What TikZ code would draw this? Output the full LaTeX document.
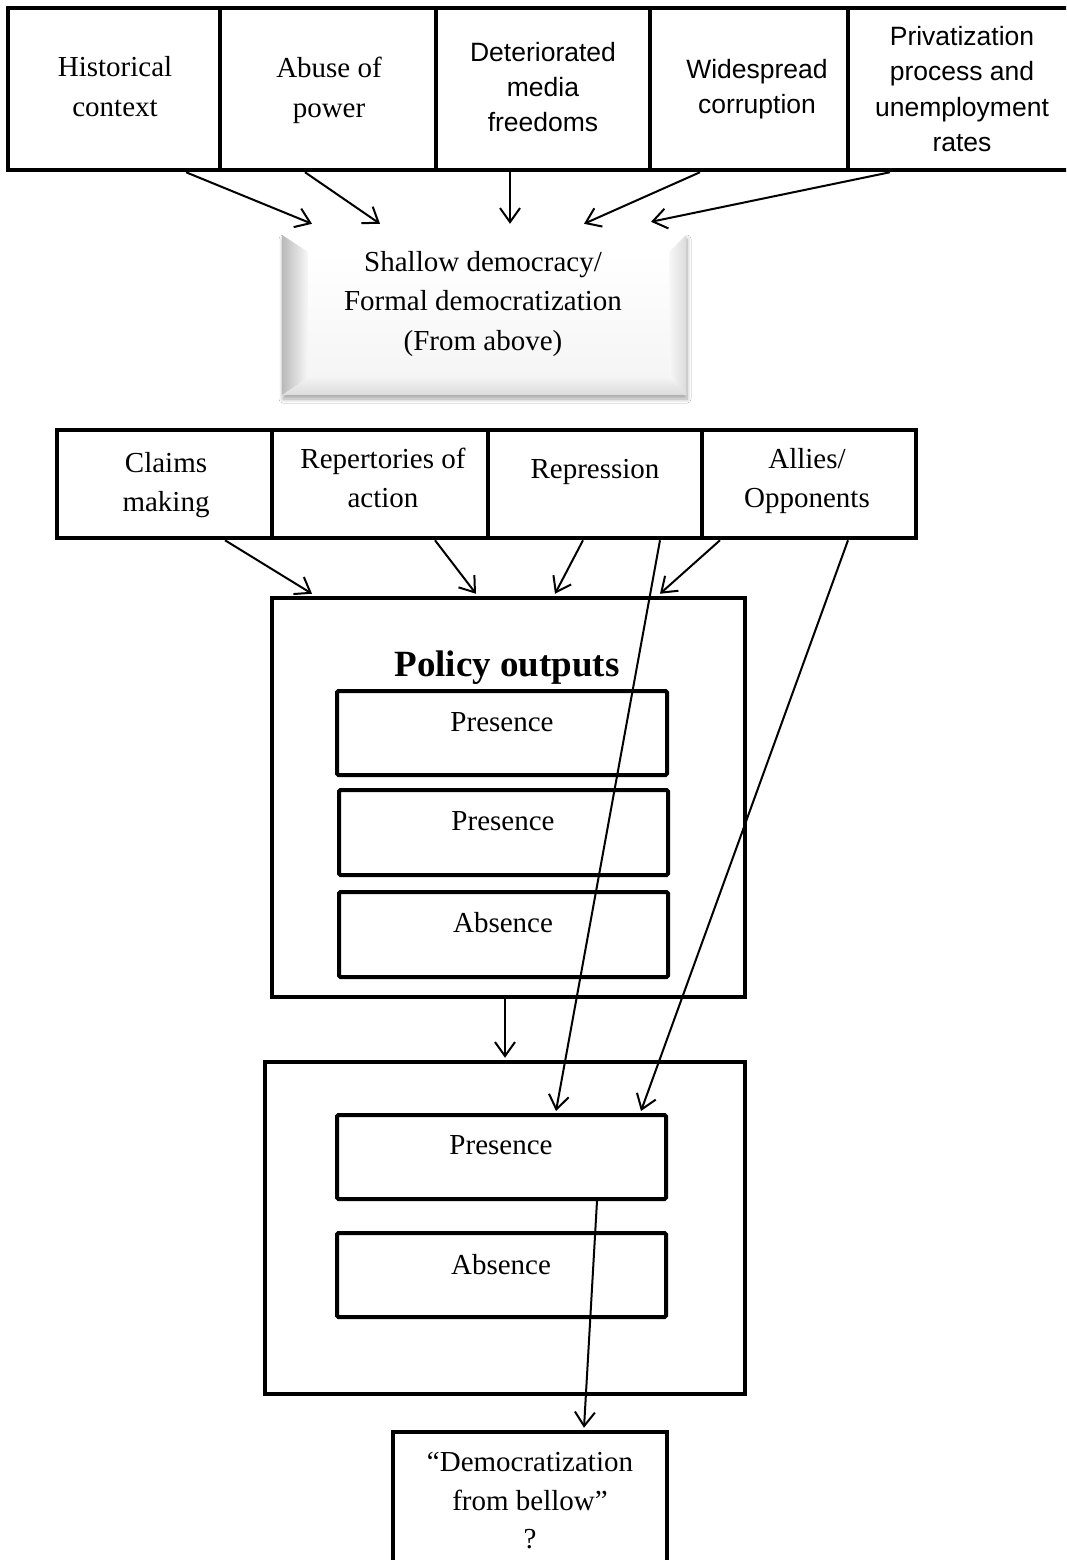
\documentclass[tikz,border=0pt]{standalone}
\usepackage{fontspec}
\setmainfont{Liberation Serif}
\newfontfamily\arialf{Liberation Sans}
\usetikzlibrary{arrows.meta,calc,shadows.blur}
\begin{document}
\begin{tikzpicture}[x=1pt,y=-1pt,
  tbox/.style={draw,line width=4.5pt,inner sep=0pt},
  ibox/.style={draw,line width=4pt,inner sep=0pt,rounded corners=1.5pt},
  serif/.style={font=\fontsize{29}{40}\selectfont,align=center,inner sep=0pt},
  sans/.style={font=\arialf\fontsize{26.5}{35.3}\selectfont,align=center,inner sep=0pt},
  arr/.style={line width=2pt,-{Straight Barb[length=14pt,width=20pt]}}]
\useasboundingbox (0,0) rectangle (1066,1560);
\clip (0,0) rectangle (1066,1560);
\fill[white] (0,0) rectangle (1066,1560);

% ---------- top row ----------
\node[tbox,minimum width=212pt,minimum height=162pt] (hist) at (114,89) {};
\node[tbox,minimum width=216pt,minimum height=162pt] (abuse) at (328,89) {};
\node[tbox,minimum width=214pt,minimum height=162pt] (det) at (543,89) {};
\node[tbox,minimum width=198pt,minimum height=162pt] (wide) at (749,89) {};
\node[tbox,minimum width=224pt,minimum height=162pt] (priv) at (960,89) {};
\node[serif] (histT) at (115,87) {Historical\\context};
\node[serif] (abuseT) at (329,90) {Abuse of\\power};
\node[sans] (detT) at (543,87) {Deteriorated\\media\\freedoms};
\node[sans] (wideT) at (757,89) {Widespread\\corruption};
\node[sans] (privT) at (962,89) {Privatization\\process and\\unemployment\\rates};

% ---------- shallow democracy (bevel) ----------
\node[fill=gray!4,inner sep=0pt,minimum width=404pt,minimum height=160pt,
      blur shadow={shadow xshift=1pt,shadow yshift=-4pt,shadow opacity=35,shadow blur steps=8,shadow blur radius=4pt}] (shallow) at (484,315) {};
\shade[top color=white,bottom color=gray!8]
  ($(shallow.north west)+(26,17)$) rectangle ($(shallow.south east)+(-17,-17)$);
\fill[white] (shallow.north west) -- ($(shallow.north west)+(26,17)$) -- ($(shallow.north east)+(-17,17)$) -- (shallow.north east) -- cycle;
\shade[left color=gray!55,right color=gray!6]
  (shallow.north west) -- ($(shallow.north west)+(26,17)$) -- ($(shallow.south west)+(26,-17)$) -- (shallow.south west) -- cycle;
\shade[left color=gray!6,right color=gray!28]
  (shallow.north east) -- ($(shallow.north east)+(-17,17)$) -- ($(shallow.south east)+(-17,-17)$) -- (shallow.south east) -- cycle;
\shade[top color=gray!10,bottom color=gray!28]
  (shallow.south west) -- ($(shallow.south west)+(26,-17)$) -- ($(shallow.south east)+(-17,-17)$) -- (shallow.south east) -- cycle;
\node[serif,font=\fontsize{29}{39.5}\selectfont] (shallowT) at (483,304) {Shallow democracy/\\Formal democratization\\(From above)};

% ---------- middle row ----------
\node[tbox,minimum width=215pt,minimum height=108pt] (claims) at (164.5,484) {};
\node[tbox,minimum width=216pt,minimum height=108pt] (repert) at (380,484) {};
\node[tbox,minimum width=214pt,minimum height=108pt] (repr) at (595,484) {};
\node[tbox,minimum width=214pt,minimum height=108pt] (allies) at (809,484) {};
\node[serif,font=\fontsize{29}{39}\selectfont] (claimsT) at (166,485) {Claims\\making};
\node[serif,font=\fontsize{29}{39}\selectfont] (repertT) at (383,478) {Repertories of\\action};
\node[serif] (reprT) at (595,472) {Repression};
\node[serif,font=\fontsize{29}{39}\selectfont] (alliesT) at (807,481) {Allies/\\Opponents};

% ---------- policy outputs ----------
\node[tbox,minimum width=473pt,minimum height=399pt] (policy) at (508.5,797.5) {};
\node[font=\bfseries\fontsize{37}{40}\selectfont,inner sep=0pt] (policyT) at (507,668) {Policy outputs};
\node[ibox,minimum width=330pt,minimum height=84pt] (p1) at (502,733) {};
\node[ibox,minimum width=329pt,minimum height=85pt] (p2) at (503.5,832.5) {};
\node[ibox,minimum width=329pt,minimum height=85pt] (p3) at (503.5,934.5) {};
\node[serif] (p1T) at (502,722) {Presence};
\node[serif] (p2T) at (503,821) {Presence};
\node[serif] (p3T) at (503,923) {Absence};

% ---------- outcome ----------
\node[tbox,minimum width=480pt,minimum height=332pt] (outcome) at (505,1228) {};
\node[ibox,minimum width=329pt,minimum height=84pt] (q1) at (501.5,1157) {};
\node[ibox,minimum width=329pt,minimum height=84pt] (q2) at (501.5,1275) {};
\node[serif] (q1T) at (501,1145) {Presence};
\node[serif] (q2T) at (501,1265) {Absence};

% ---------- final ----------
\node[tbox,minimum width=274pt,minimum height=168pt] (final) at (530,1516) {};
\node[serif,font=\fontsize{29}{38.5}\selectfont] (finalT) at (530,1501) {“Democratization\\from bellow”\\?};

% ---------- connectors ----------
\draw[arr] ([xshift=72pt]hist.south) -- ([xshift=-172pt,yshift=11pt]shallow.north);
\draw[arr] ([xshift=-23pt]abuse.south) -- ([xshift=-104pt,yshift=11pt]shallow.north);
\draw[arr] ([xshift=-33pt]det.south) -- ([xshift=26pt,yshift=11pt]shallow.north);
\draw[arr] ([xshift=-49pt]wide.south) -- ([xshift=100pt,yshift=11pt]shallow.north);
\draw[arr] ([xshift=-70pt]priv.south) -- ([xshift=167pt,yshift=13pt]shallow.north);

\draw[arr] ([xshift=60.5pt]claims.south) -- ([xshift=-196.5pt,yshift=2pt]policy.north);
\draw[arr] ([xshift=55pt]repert.south) -- ([xshift=-32.5pt,yshift=2pt]policy.north);
\draw[arr] ([xshift=-12pt]repr.south) -- ([xshift=46.5pt,yshift=2pt]policy.north);
\draw[arr] ([xshift=-89pt]allies.south) -- ([xshift=151.5pt,yshift=2pt]policy.north);
\draw[arr] ([xshift=65pt]repr.south) -- ([xshift=54.5pt,yshift=2pt]q1.north);
\draw[arr] ([xshift=39pt]allies.south) -- ([xshift=139.5pt,yshift=2pt]q1.north);

\draw[arr] ([xshift=-3.5pt]policy.south) -- ([yshift=2pt]outcome.north);
\draw[arr] ([xshift=95.5pt]q1.south) -- ([xshift=54pt,yshift=2pt]final.north);
\end{tikzpicture}
\end{document}
